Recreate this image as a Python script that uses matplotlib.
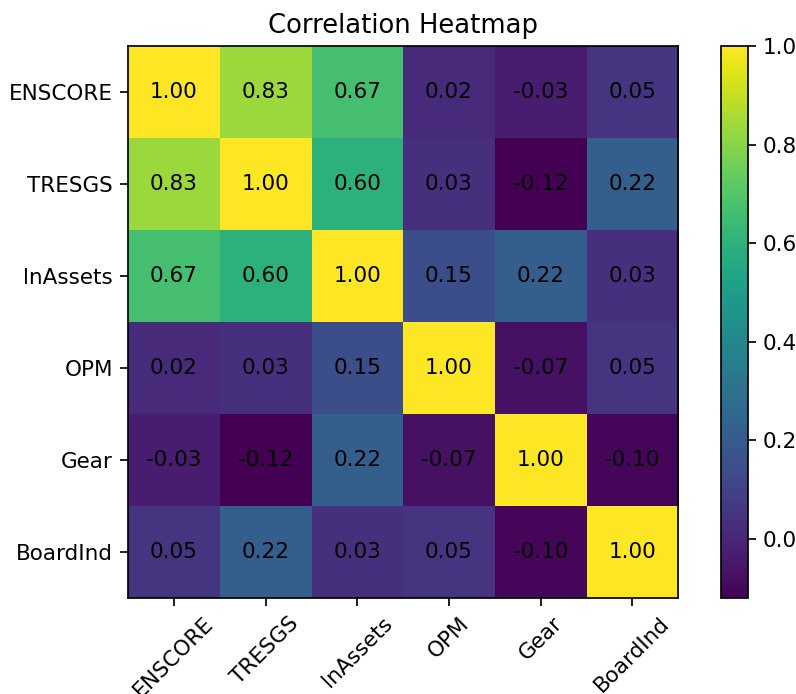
import numpy as np
import matplotlib
matplotlib.use("Agg")
import matplotlib.pyplot as plt

labels = ["ENSCORE", "TRESGS", "lnAssets", "OPM", "Gear", "BoardInd"]
corr = np.array([
    [1.00, 0.83, 0.67, 0.02, -0.03, 0.05],
    [0.83, 1.00, 0.60, 0.03, -0.12, 0.22],
    [0.67, 0.60, 1.00, 0.15, 0.22, 0.03],
    [0.02, 0.03, 0.15, 1.00, -0.07, 0.05],
    [-0.03, -0.12, 0.22, -0.07, 1.00, -0.10],
    [0.05, 0.22, 0.03, 0.05, -0.10, 1.00],
])

# the reference looks like a default figure rendered at ~1.55x scale
s = 1.55
plt.rcParams.update({
    "font.size": 10 * s,
    "axes.linewidth": 0.8 * s,
    "xtick.major.size": 3.5 * s,
    "ytick.major.size": 3.5 * s,
    "xtick.major.width": 0.8 * s,
    "ytick.major.width": 0.8 * s,
    "xtick.major.pad": 3.5 * s,
    "ytick.major.pad": 3.5 * s,
})

fig = plt.figure(figsize=(7.96, 6.94), dpi=100)
ax = fig.add_axes([128 / 796, 96 / 694, 550 / 796, 552 / 694])
cax = fig.add_axes([721 / 796, 96 / 694, 27 / 796, 552 / 694])

im = ax.imshow(corr, cmap="viridis", aspect="auto")
fig.colorbar(im, cax=cax)

ax.set_xticks(range(len(labels)))
ax.set_yticks(range(len(labels)))
ax.set_xticklabels(labels, rotation=45)
ax.set_yticklabels(labels)

for i in range(len(labels)):
    for j in range(len(labels)):
        ax.text(j, i, "%.2f" % corr[i, j], ha="center", va="center", color="black")

ax.set_title("Correlation Heatmap", fontsize=12 * s, pad=6 * s)

fig.savefig("out.png", dpi=100)
